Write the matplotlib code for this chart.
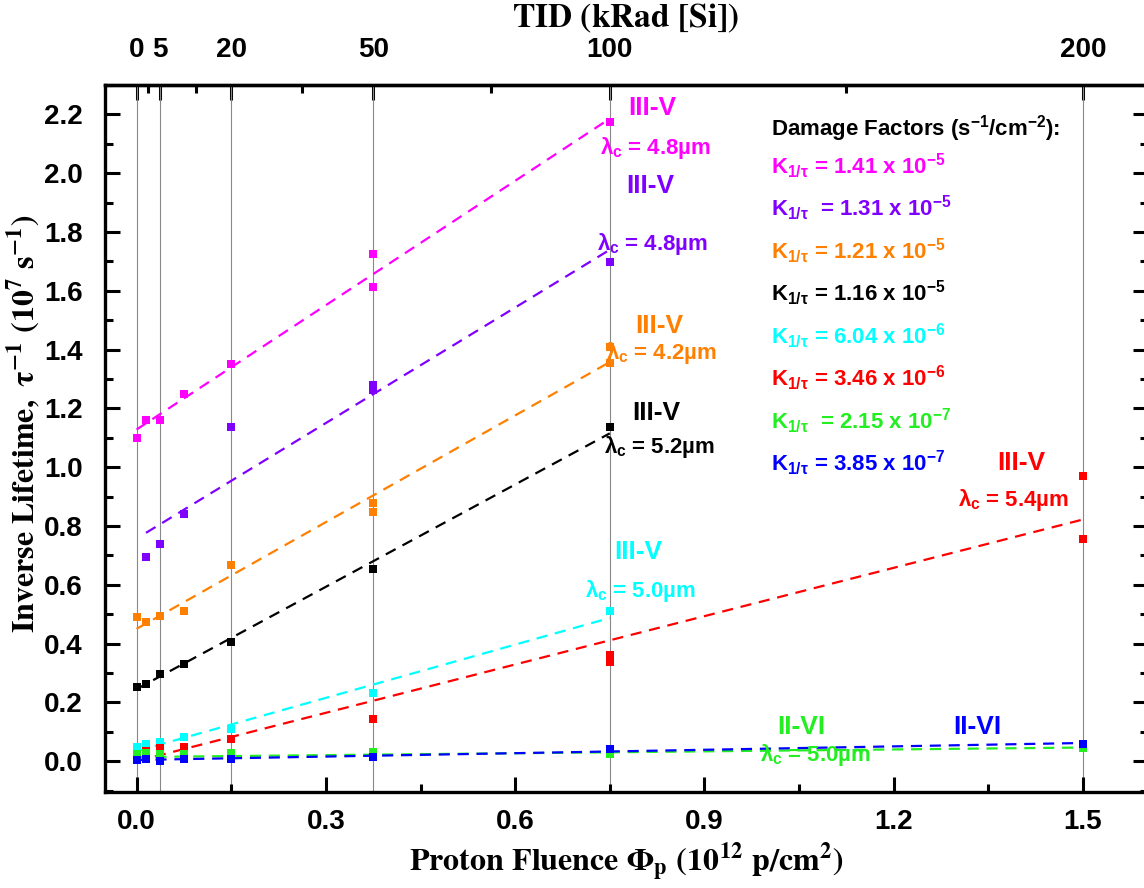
import matplotlib
matplotlib.use('Agg')

import matplotlib.pyplot as plt
from matplotlib import font_manager as fm
from matplotlib.ticker import MultipleLocator, FixedLocator, FormatStrFormatter
import numpy as np

# 字型設定
names = {f.name for f in fm.fontManager.ttflist}
tick_font = 'Liberation Sans Narrow' if 'Liberation Sans Narrow' in names else 'Liberation Sans'
plt.rcParams['font.family'] = ['Liberation Sans', 'DejaVu Sans']
plt.rcParams['font.weight'] = 'bold'
plt.rcParams['mathtext.fontset'] = 'custom'
plt.rcParams['mathtext.rm'] = 'Liberation Sans:bold'
plt.rcParams['mathtext.it'] = 'Liberation Sans:bold'
plt.rcParams['mathtext.bf'] = 'Liberation Sans:bold'

# ---- data (proton fluence in 1e12 p/cm^2, inverse lifetime in 1e7 1/s) ----
magenta_x = [0, 0.015, 0.0375, 0.075, 0.15, 0.375, 0.375, 0.75]
magenta_y = [1.10, 1.162, 1.162, 1.25, 1.351, 1.726, 1.613, 2.174]
purple_x = [0.015, 0.0375, 0.075, 0.15, 0.375, 0.375, 0.75]
purple_y = [0.695, 0.740, 0.842, 1.137, 1.279, 1.262, 1.698]
orange_x = [0, 0.015, 0.0375, 0.075, 0.15, 0.375, 0.375, 0.75, 0.75]
orange_y = [0.489, 0.472, 0.494, 0.510, 0.667, 0.877, 0.848, 1.409, 1.353]
black_x = [0, 0.015, 0.0375, 0.075, 0.15, 0.375, 0.75]
black_y = [0.253, 0.264, 0.296, 0.332, 0.406, 0.655, 1.137]
cyan_x = [0, 0.015, 0.0375, 0.075, 0.15, 0.375, 0.75]
cyan_y = [0.049, 0.057, 0.064, 0.081, 0.108, 0.232, 0.510]
red_x = [0, 0.015, 0.0375, 0.075, 0.15, 0.375, 0.75, 0.75, 1.5, 1.5]
red_y = [0.005, 0.035, 0.043, 0.047, 0.074, 0.145, 0.360, 0.338, 0.969, 0.757]
green_x = [0, 0.015, 0.0375, 0.075, 0.15, 0.375, 0.75, 1.5]
green_y = [0.024, 0.028, 0.024, 0.023, 0.028, 0.030, 0.023, 0.043]
blue_x = [0, 0.015, 0.0375, 0.075, 0.15, 0.375, 0.75, 1.5]
blue_y = [0.003, 0.008, 0.001, 0.007, 0.007, 0.013, 0.040, 0.060]

# linear fits: intercept, slope, fluence range
fit_intercept = [1.128, 0.757, 0.45, 0.245, 0.034, 0.0, 0.014, 0.004]
fit_slope = [1.41, 1.31, 1.21, 1.16, 0.604, 0.548, 0.0215, 0.0385]
fit_start = [0, 0.015, 0, 0, 0, 0, 0, 0]
fit_end = [0.75, 0.75, 0.75, 0.75, 0.75, 1.5, 1.5, 1.5]

k_labels = [r'K$_{1/\tau}$ = 1.41 x 10$^{-5}$',
            r'K$_{1/\tau}$  = 1.31 x 10$^{-5}$',
            r'K$_{1/\tau}$ = 1.21 x 10$^{-5}$',
            r'K$_{1/\tau}$ = 1.16 x 10$^{-5}$',
            r'K$_{1/\tau}$ = 6.04 x 10$^{-6}$',
            r'K$_{1/\tau}$ = 3.46 x 10$^{-6}$',
            r'K$_{1/\tau}$  = 2.15 x 10$^{-7}$',
            r'K$_{1/\tau}$ = 3.85 x 10$^{-7}$']
material = ['III-V', 'III-V', 'III-V', 'III-V', 'III-V', 'III-V', 'II-VI', 'II-VI']
cutoff = ['4.8', '4.8', '4.2', '5.2', '5.0', '5.4', '5.0', None]

tid_ticks = [0, 5, 20, 50, 100, 200]
tid_minor = [2.5, 12.5, 35, 75, 150]
grid_fluence = [0, 0.0375, 0.15, 0.375, 0.75, 1.5]

colors = ['#FF00FF', '#8000FF', '#FF8000', '#000000',
          '#00FFFF', '#FF0000', '#22EE22', '#0000FF']
xs = [magenta_x, purple_x, orange_x, black_x, cyan_x, red_x, green_x, blue_x]
ys = [magenta_y, purple_y, orange_y, black_y, cyan_y, red_y, green_y, blue_y]

# label positions (data coords): material text, lambda text
mat_pos = [(0.779, 2.221), (0.776, 1.956), (0.790, 1.480), (0.785, 1.184),
           (0.757, 0.711), (1.364, 1.014), (1.015, 0.116), (1.294, 0.116)]
lam_pos = [(0.735, 2.085), (0.730, 1.759), (0.744, 1.388), (0.741, 1.068),
           (0.711, 0.578), (1.302, 0.888), (0.988, 0.020), None]

fig = plt.figure(figsize=(11.44, 8.88), dpi=100)
ax = fig.add_axes([0.0918, 0.1081, 0.9117, 0.7962])

for g in grid_fluence:
    ax.axvline(g, color='#888888', lw=0.8, zorder=1)

for i in range(len(colors)):
    fx = np.array([fit_start[i], fit_end[i]])
    ax.plot(fx, fit_intercept[i] + fit_slope[i] * fx, color=colors[i], lw=1.6,
            dashes=(5, 3.5), zorder=2)
    ax.plot(xs[i], ys[i], 's', color=colors[i], ms=6, mew=0, zorder=3)

    mx, my = mat_pos[i]
    ax.text(mx, my, material[i], color=colors[i], fontsize=19, fontweight='bold',
            va='center', ha='left', zorder=4)
    if cutoff[i] is not None:
        lx, ly = lam_pos[i]
        ax.text(lx, ly, r'$\lambda_c$ = ' + cutoff[i] + 'µm', color=colors[i],
                fontsize=16, fontweight='bold', va='center', ha='left', zorder=4)

# 右側損傷因子文字
ax.text(0.6385, 0.9378, r'Damage Factors (s$^{-1}$/cm$^{-2}$):', transform=ax.transAxes,
        fontsize=16, fontweight='bold', color='black', va='center', ha='left')
for i, lab in enumerate(k_labels):
    ax.text(0.6385, 0.8854 - i * 0.0601, lab, transform=ax.transAxes,
            fontsize=16, fontweight='bold', color=colors[i], va='center', ha='left')

ax.set_xlim(-0.05, 1.603)
ax.set_ylim(-0.105, 2.3)
ax.xaxis.set_major_locator(MultipleLocator(0.3))
ax.xaxis.set_minor_locator(MultipleLocator(0.15))
ax.yaxis.set_major_locator(MultipleLocator(0.2))
ax.yaxis.set_minor_locator(MultipleLocator(0.1))
ax.xaxis.set_major_formatter(FormatStrFormatter('%.1f'))
ax.yaxis.set_major_formatter(FormatStrFormatter('%.1f'))

ax.tick_params(which='both', direction='in', top=False, right=True, width=2.2)
ax.tick_params(axis='y', which='major', length=11, pad=16)
ax.tick_params(axis='x', which='major', length=11, pad=12)
ax.tick_params(which='minor', length=6)
for s in ax.spines.values():
    s.set_linewidth(2.4)
for lab in ax.get_xticklabels() + ax.get_yticklabels():
    lab.set_fontfamily(tick_font)
    lab.set_fontsize(20)
    lab.set_fontweight('bold')

secax = ax.secondary_xaxis('top', functions=(lambda f: f * 200 / 1.5, lambda t: t * 1.5 / 200))
secax.xaxis.set_major_locator(FixedLocator(tid_ticks))
secax.xaxis.set_minor_locator(FixedLocator(tid_minor))
secax.tick_params(which='both', direction='in', width=2.2)
secax.tick_params(which='major', length=11, pad=16)
secax.tick_params(which='minor', length=6)
secax.spines['top'].set_linewidth(2.4)
for lab in secax.get_xticklabels():
    lab.set_fontfamily(tick_font)
    lab.set_fontsize(20)
    lab.set_fontweight('bold')

ax.set_xlabel(r'$\mathbf{Proton\ Fluence\ \Phi_p\ (10^{12}\ p/cm^2)}$', math_fontfamily='stix',
              fontsize=23, va='center')
ax.xaxis.set_label_coords(0.4995, -0.099)
ax.set_ylabel(r'$\mathbf{Inverse\ Lifetime,\ \tau^{-1}\ (10^{7}\ s^{-1})}$', math_fontfamily='stix',
              fontsize=23, va='center')
ax.yaxis.set_label_coords(-0.078, 0.52)
ax.text(0.4995, 1.095, r'$\mathbf{TID\ (kRad\ [Si])}$', math_fontfamily='stix', fontsize=24,
        transform=ax.transAxes, ha='center', va='center')

fig.savefig('out.png', dpi=100)
